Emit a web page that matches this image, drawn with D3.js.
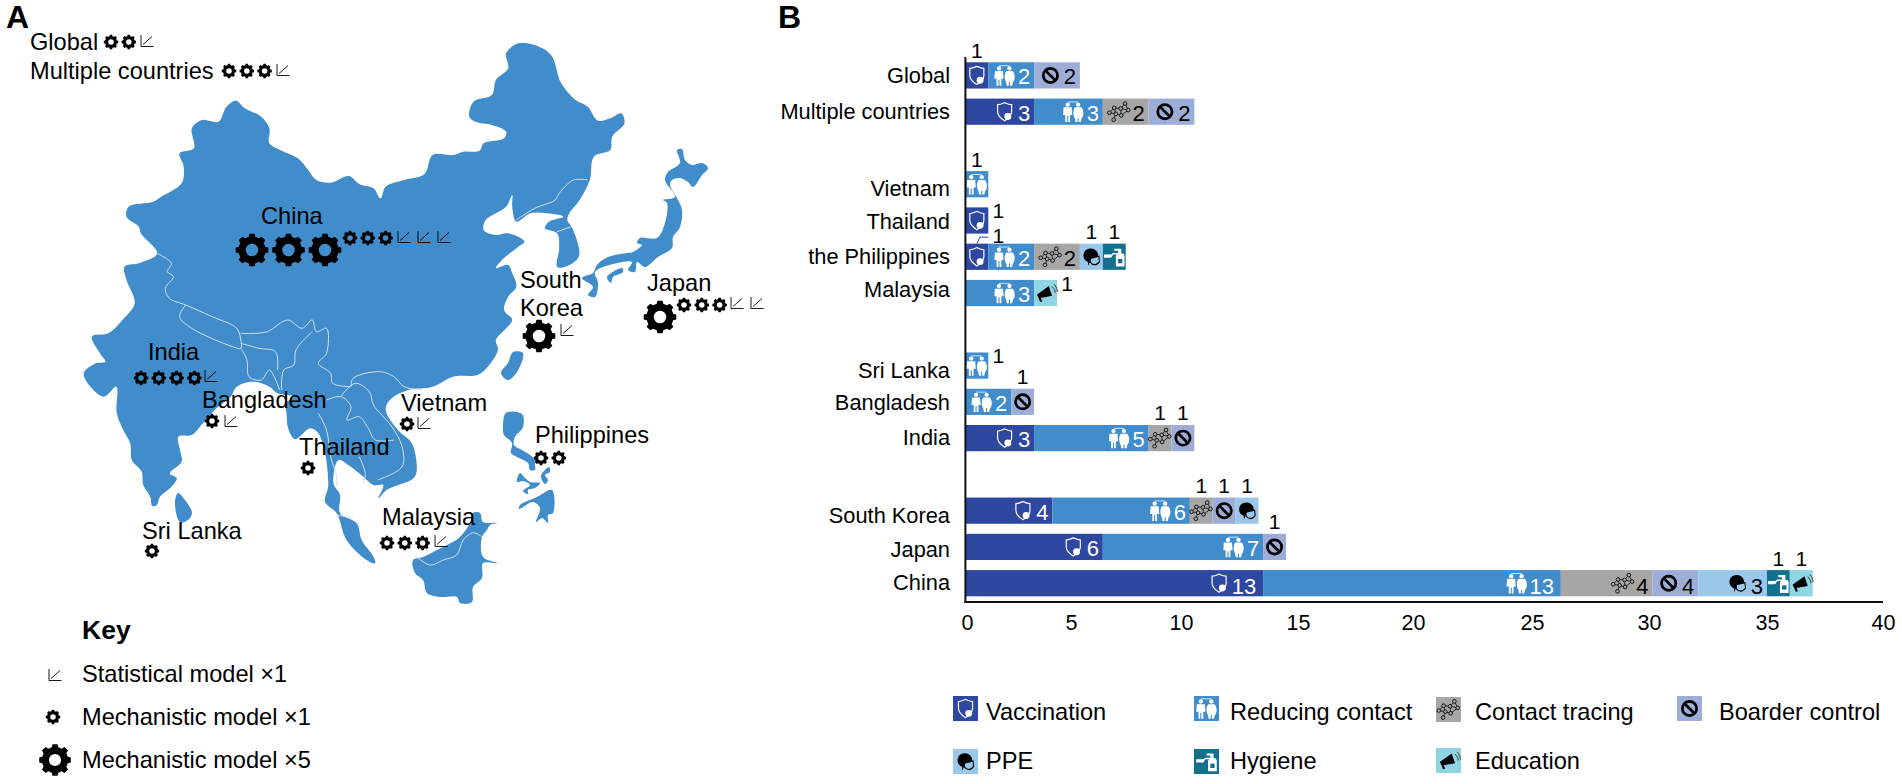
<!DOCTYPE html>
<html><head><meta charset="utf-8">
<script src="https://cdn.jsdelivr.net/npm/d3@7"></script>
<style>
html,body{margin:0;padding:0;background:#fff}
svg{display:block}
text{font-family:"Liberation Sans",Arial,sans-serif;fill:#000}
</style></head><body>
<svg id="c" width="1902" height="784" viewBox="0 0 1902 784"></svg>
<script>
// ---------- bar chart data (bar lengths as drawn in the picture) ----------
const categories = ["Global","Multiple countries","","Vietnam","Thailand","the Philippines","Malaysia"," ","Sri Lanka","Bangladesh","India","  ","South Korea","Japan","China"];
const vaccination    = [1,3,0,0,1,1,0,0,0,0,3,0,3.8,6,13];
const reducingContact= [2,3,0,1,0,2,3,0,1,2,5,0,6,7,13];
const contactTracing = [0,2,0,0,0,2,0,0,0,0,1,0,1,0,4];
const boarderControl = [2,2,0,0,0,0,0,0,0,1,1,0,1,1,2];
const ppe            = [0,0,0,0,0,1,0,0,0,0,0,0,1,0,3];
const hygiene        = [0,0,0,0,0,1,0,0,0,0,0,0,0,0,1];
const education      = [0,0,0,0,0,0,1,0,0,0,0,0,0,0,1];
const seriesNames = ["Vaccination","Reducing contact","Contact tracing","Boarder control","PPE","Hygiene","Education"];
const seriesValues = [vaccination,reducingContact,contactTracing,boarderControl,ppe,hygiene,education];
const seriesColors = ["#2e47a0","#418ccb","#a6a6a6","#9dadd8","#9ac8eb","#14708f","#8fd5e3"];
const seriesIcons = ["shield","people","network","ban","mask","bottle","horn"];
const printedLabels = {"China|Boarder control":4,"South Korea|Vaccination":4};
const xTicks = [0,5,10,15,20,25,30,35,40];
const xTickPixels = [967,1071,1181,1298,1413,1532,1649,1767,1883];
const labelNudge = {"Global":0,"Multiple countries":0,"Vietnam":4,"Thailand":1,"the Philippines":0,"Malaysia":-4,"Sri Lanka":5,"Bangladesh":1,"India":-1,"South Korea":5,"Japan":2,"China":-1};
const onesAtRight = ["Thailand|Vaccination","Malaysia|Education","Sri Lanka|Reducing contact"];
const onesWithLeader = ["the Philippines|Vaccination"];

// ---------- map data (traced outline, reference crop units) ----------
const mainlandOutline = [[578,302],[600,325],[640,350],[660,385],[660,430],[690,452],[730,475],[755,510],[775,540],[810,548],[855,528],[880,552],[915,565],[932,595],[945,560],[990,540],[1040,522],[1060,465],[1110,465],[1135,455],[1175,452],[1185,430],[1235,415],[1240,395],[1205,375],[1165,365],[1150,350],[1160,305],[1205,285],[1215,240],[1245,205],[1240,160],[1270,130],[1310,135],[1350,165],[1375,250],[1410,300],[1440,320],[1465,362],[1495,355],[1522,340],[1530,370],[1500,410],[1495,450],[1455,470],[1445,540],[1420,600],[1395,640],[1390,660],[1400,680],[1412,715],[1418,770],[1385,800],[1365,800],[1370,745],[1365,700],[1335,685],[1345,665],[1380,650],[1340,640],[1300,640],[1265,665],[1255,620],[1255,585],[1240,620],[1190,660],[1185,690],[1215,705],[1240,700],[1260,705],[1285,725],[1270,740],[1230,780],[1215,805],[1245,795],[1255,820],[1265,860],[1245,890],[1235,930],[1255,960],[1240,985],[1215,1020],[1220,1050],[1195,1100],[1170,1125],[1110,1130],[1060,1160],[1000,1170],[955,1200],[945,1230],[975,1290],[1009,1330],[1021,1410],[1013,1435],[947,1470],[927,1495],[939,1455],[915,1455],[890,1430],[853,1395],[829,1380],[817,1450],[833,1485],[833,1540],[874,1570],[886,1620],[915,1670],[919,1690],[898,1680],[849,1620],[825,1540],[796,1505],[804,1460],[800,1385],[796,1360],[780,1300],[760,1285],[723,1318],[706,1285],[702,1240],[700,1210],[720,1190],[680,1180],[660,1160],[620,1145],[580,1160],[565,1190],[530,1225],[490,1280],[470,1305],[437,1310],[441,1350],[445,1385],[416,1420],[433,1435],[420,1460],[392,1490],[384,1515],[373,1518],[368,1490],[351,1455],[347,1415],[323,1380],[319,1330],[302,1290],[286,1240],[285,1160],[255,1190],[225,1165],[205,1120],[235,1090],[258,1085],[245,1060],[225,1010],[265,1000],[300,960],[330,910],[310,840],[305,800],[340,790],[385,760],[345,700],[340,680],[310,650],[315,620],[375,605],[395,590],[445,550],[450,500],[440,460],[475,445],[470,385],[495,360],[535,365],[555,320]];
const borderLines = [
 [[385,760],[420,790],[410,815],[425,830],[405,865],[415,895],[455,915],[520,950],[580,985],[590,1020],[590,1045],[570,1040],[470,985],[440,950],[455,915]],
 [[590,1000],[625,1000],[655,995],[705,960],[740,985],[765,960],[775,995],[800,985],[800,1060],[780,1090],[810,1120],[815,1150],[860,1160]],
 [[765,995],[725,1050],[720,1095],[695,1110],[690,1170]],
 [[590,1045],[605,1080],[610,1130],[640,1140],[660,1110],[685,1170]],
 [[590,1030],[635,1045],[675,1055],[680,1110]],
 [[860,1160],[865,1135],[930,1115],[965,1130],[990,1160],[1035,1170]],
 [[835,1190],[870,1150],[905,1175],[915,1215],[960,1280],[985,1340],[985,1400],[925,1440]],
 [[800,1200],[835,1190],[860,1220],[850,1260],[880,1250],[900,1280],[920,1320],[965,1320]],
 [[780,1240],[800,1290],[810,1370],[825,1430],[825,1460]],
 [[880,1370],[895,1420],[890,1450]],
 [[1440,540],[1405,540],[1370,580],[1360,600],[1310,625],[1265,660]],
 [[1365,695],[1400,680]],
 [[825,1545],[866,1555]],
 [[1016,1665],[1053,1695],[1086,1680],[1119,1665],[1135,1620],[1160,1598],[1180,1610]]
];
// islands in page pixels
const islands = [
 [[178,493],[185,500],[192,513],[188,520],[180,522],[175,503]],
 [[513,352],[523,353],[517,372],[508,380],[501,373],[508,363]],
 [[677,150],[682,149],[685,160],[692,165],[702,163],[708,168],[702,175],[693,187],[688,182],[680,178],[672,180],[670,185],[677,198],[682,210],[680,227],[673,237],[672,248],[658,257],[645,267],[637,262],[635,272],[628,270],[632,262],[617,263],[595,272],[598,283],[595,297],[588,295],[593,287],[582,278],[593,273],[597,265],[608,257],[627,253],[633,252],[642,245],[637,243],[640,238],[657,238],[665,223],[667,203],[663,200],[675,197],[665,180],[668,172],[680,163]],
 [[607,277],[622,268],[623,272],[613,277],[611,283]],
 [[506,413],[522,414],[523,427],[515,437],[514,445],[522,450],[530,455],[537,462],[535,463],[535,470],[530,470],[528,463],[517,457],[511,453],[512,443],[504,435],[503,427]],
 [[520,473],[525,478],[530,482],[540,483],[535,488],[528,490],[528,494],[523,491],[530,485],[523,481],[517,482]],
 [[549,467],[550,472],[545,475],[548,480],[545,484],[541,476]],
 [[552,490],[553,513],[548,515],[548,523],[542,518],[536,522],[540,508],[533,502],[523,507],[519,509],[520,505],[537,497]],
 [[413,560],[423,557],[437,550],[447,545],[460,537],[470,523],[473,513],[480,513],[483,522],[497,523],[490,525],[487,530],[482,537],[483,557],[497,563],[483,563],[482,578],[473,587],[472,602],[460,603],[457,597],[440,597],[427,593],[423,580],[415,573]]
];
// model counts per place
const places = ["Global","Multiple countries","China","South Korea","Japan","India","Bangladesh","Vietnam","Thailand","Philippines","Malaysia","Sri Lanka"];
const bigGears   = [0,0,3,1,1,0,0,0,0,0,0,0];
const smallGears = [2,3,3,0,3,4,1,1,1,2,3,1];
const statModels = [1,1,3,1,2,1,1,1,0,0,1,0];
const placeLabelPos = [[30,42],[30,71],[261,216],[520,280],[647,283],[148,352],[202,400],[401,403],[299,447],[535,435],[382,517],[142,531]];
const bigGearPos = [null,null,[252,250],[539,336],[660,317],null,null,null,null,null,null,null];
const smallGearPos = [[111,42],[229,71],[350,238],null,[684,305],[141,378],[212,421],[407,424],[308,468],[541,458],[387,543],[152,551]];
const statPos = [[147,41],[283,70],[404,237],[567,330],[737,303],[211,376],[231,421],[424,423],null,null,[441,541],null];
const smallStep = 17.8, bigStep = 36.5, statStep = 20;
const keyRows = ["Statistical model ×1","Mechanistic model ×1","Mechanistic model ×5"];

// ---------- helpers ----------
const svg = d3.select("#c");
const fontMain = 23.6;
const mapX = d3.scaleLinear().domain([0,1568]).range([0,640]);
const mapY = d3.scaleLinear().domain([0,1500]).range([0,500]);
const mapLine = d3.line().x(d=>mapX(d[0])).y(d=>mapY(d[1]));
const pxArea = d3.line().curve(d3.curveCatmullRomClosed.alpha(.5));
const mapFill = "#418ccb";

function gearPath(r){
  const n=8,p=d3.path(),ro=r,ri=r*.82,h=r*.38;
  const step=2*Math.PI/n;
  for(let i=0;i<n;i++){
    const a=i*step-Math.PI/2;
    const pts=[[ri,a-step*.5],[ri,a-step*.32],[ro,a-step*.2],[ro,a+step*.2],[ri,a+step*.32]];
    pts.forEach(([q,t],j)=>{const x=q*Math.cos(t),y=q*Math.sin(t);(i===0&&j===0)?p.moveTo(x,y):p.lineTo(x,y);});
  }
  p.closePath();
  p.moveTo(h,0);p.arc(0,0,h,0,2*Math.PI);p.closePath();
  return p.toString();
}
function gear(g,x,y,r){g.append("path").attr("transform",`translate(${x},${y})`).attr("d",gearPath(r)).attr("fill","#000").attr("fill-rule","evenodd");}
function statIcon(g,x,y){
  const t=g.append("g").attr("transform",`translate(${x},${y})`).attr("fill","none").attr("stroke","#000").attr("stroke-width",.9);
  t.append("path").attr("d","M-6,-6V5.5H6.5");
  t.append("path").attr("d","M-4,3.5L5,-4.5");
}
const icons = {
  shield(g){
    g.append("path").attr("d","M-6.5,-6.5C-3.5,-6.5 -2,-7.5 0,-8.5C2,-7.5 3.5,-6.5 6.5,-6.5L6.5,0C6.5,4 3,6.5 0,8.5C-3,6.5 -6.5,4 -6.5,0Z").attr("fill","none").attr("stroke","#fff").attr("stroke-width",1.1);
    g.append("circle").attr("cx",3).attr("cy",4.5).attr("r",3.2).attr("fill","#fff");
  },
  people(g){
    g.append("circle").attr("cx",-5.2).attr("cy",-6.5).attr("r",2).attr("fill","#fff");
    g.append("circle").attr("cx",4.5).attr("cy",-6.5).attr("r",2).attr("fill","#fff");
    g.append("path").attr("d","M-9,-4H-1.5L-1,3H-3V9.5H-4.7V4H-5.7V9.5H-7.4V3H-9.5Z").attr("fill","#fff");
    g.append("path").attr("d","M1.5,-4H7.5C10,-1 10,4 7.5,6.5L7,9.5H5V6H4V9.5H2L1.5,6.5C-.5,3 -.5,-1 1.5,-4Z").attr("fill","#fff");
    g.append("path").attr("d","M-5,-9H4.5").attr("stroke","#fff").attr("stroke-width",.7).attr("fill","none");
  },
  network(g){
    const pts=[[-9,1],[-4.5,-3.5],[1.5,-3],[5.5,-7.5],[8.5,-1.5],[-5,7.5],[2,3.5],[-3,2]];
    const links=[[0,1],[1,2],[2,3],[3,4],[2,4],[1,7],[7,6],[6,2],[7,5],[6,4],[0,7]];
    g.selectAll("line.a").data(links).enter().append("line").attr("x1",d=>pts[d[0]][0]).attr("y1",d=>pts[d[0]][1]).attr("x2",d=>pts[d[1]][0]).attr("y2",d=>pts[d[1]][1]).attr("stroke","#000").attr("stroke-width",.7);
    g.selectAll("circle.a").data(pts).enter().append("circle").attr("cx",d=>d[0]).attr("cy",d=>d[1]).attr("r",1.7).attr("fill","#a6a6a6").attr("stroke","#000").attr("stroke-width",.8);
  },
  ban(g){
    g.append("circle").attr("r",6.6).attr("fill","none").attr("stroke","#000").attr("stroke-width",2.5);
    g.append("line").attr("x1",-4.7).attr("y1",-4.7).attr("x2",4.7).attr("y2",4.7).attr("stroke","#000").attr("stroke-width",2.5);
  },
  mask(g,bg){
    g.append("path").attr("d","M-3,8.5L-3,5C-8,3 -8,-2 -6.5,-4.5C-3.5,-9 4,-8.5 6,-3L6.5,1L0,2Z").attr("fill","#000");
    g.append("path").attr("d","M-1,1.5L7,-0.5L7.5,4.5C5,8.5 1,8 -1,5Z").attr("fill",bg).attr("stroke","#000").attr("stroke-width",1);
  },
  bottle(g,bg){
    g.append("path").attr("d","M-9.5,-2H-3L-1,-3.5H3.5V-5.5H0V-7.5H6.5V-3H8.5L9.5,-1V9H1.5V-1L2.5,-2H-1L-3,1H-9.5Z").attr("fill","#fff");
    g.append("rect").attr("x",3.5).attr("y",2).attr("width",4).attr("height",4).attr("fill",bg);
  },
  horn(g){
    g.append("path").attr("d","M-8,1.5L3,-6.5L6,2.5L-4.5,4.5L-3,7.5L-5,8L-6.5,4.5Z").attr("fill","#000");
    g.append("path").attr("d","M6,-6C8,-4 9,-2 9,0M8,-8C10,-6 11,-3 11,-1").attr("fill","none").attr("stroke","#333").attr("stroke-width",.9);
  }
};
function drawIcon(parent,name,x,y,bg){const g=parent.append("g").attr("transform",`translate(${x},${y}) scale(1.08)`);icons[name](g,bg);}

// ---------- panel letters ----------
svg.append("text").attr("x",6).attr("y",28).attr("font-size",32).attr("font-weight","bold").text("A");
svg.append("text").attr("x",778).attr("y",28).attr("font-size",32).attr("font-weight","bold").text("B");

// ---------- map ----------
const map = svg.append("g");
map.append("path").attr("d",mapLine.curve(d3.curveCatmullRomClosed.alpha(.5))(mainlandOutline)).attr("fill",mapFill);
map.selectAll("path.island").data(islands).enter().append("path").attr("class","island").attr("d",d=>pxArea(d)).attr("fill",mapFill);
const borderGen = d3.line().x(d=>mapX(d[0])).y(d=>mapY(d[1])).curve(d3.curveCatmullRom.alpha(.5));
map.selectAll("path.border").data(borderLines).enter().append("path").attr("class","border").attr("d",d=>borderGen(d)).attr("fill","none").attr("stroke","#cfe2f3").attr("stroke-width",1);

const marks = svg.append("g");
places.forEach((p,i)=>{
  const [lx,ly]=placeLabelPos[i];
  if(p==="South Korea"){
    marks.append("text").attr("x",lx).attr("y",ly).attr("dy",".35em").attr("font-size",fontMain).text("South");
    marks.append("text").attr("x",lx).attr("y",ly+28).attr("dy",".35em").attr("font-size",fontMain).text("Korea");
  } else {
    marks.append("text").attr("x",lx).attr("y",ly).attr("dy",".35em").attr("font-size",fontMain).text(p);
  }
  d3.range(bigGears[i]).forEach(k=>gear(marks,bigGearPos[i][0]+k*bigStep,bigGearPos[i][1],16.5));
  d3.range(smallGears[i]).forEach(k=>gear(marks,smallGearPos[i][0]+k*smallStep,smallGearPos[i][1],7.3));
  d3.range(statModels[i]).forEach(k=>statIcon(marks,statPos[i][0]+k*statStep,statPos[i][1]));
});

// ---------- key ----------
const key = svg.append("g");
key.append("text").attr("x",82).attr("y",630).attr("dy",".35em").attr("font-size",26.5).attr("font-weight","bold").text("Key");
[674,717,760].forEach((y,i)=>key.append("text").attr("x",82).attr("y",y).attr("dy",".35em").attr("font-size",fontMain).text(keyRows[i]));
statIcon(key,55,675); gear(key,53,717,7.3); gear(key,55,760,16);

// ---------- bars ----------
const x = d3.scaleLinear().domain([0,40]).range([965.4,1881.4]);
const y = d3.scaleBand().domain(categories).range([62.3,596.3]).paddingInner(.277).paddingOuter(0);
const xAxisScale = d3.scaleLinear().domain(xTicks).range(xTickPixels);
const rows = categories.map((c,i)=>{const o={category:c};seriesNames.forEach((s,k)=>o[s]=seriesValues[k][i]);return o;});
const stacked = d3.stack().keys(seriesNames)(rows);
const plot = svg.append("g");
stacked.forEach((layer,k)=>{
  plot.selectAll(null).data(layer.filter(d=>d[1]>d[0])).enter().append("rect")
    .attr("x",d=>x(d[0])).attr("y",d=>y(d.data.category)).attr("width",d=>x(d[1])-x(d[0])).attr("height",y.bandwidth())
    .attr("fill",seriesColors[k]);
});
stacked.forEach((layer,k)=>{
  const name=seriesNames[k], dark=k<2||k===5, col=dark?"#fff":"#000";
  layer.filter(d=>d[1]>d[0]).forEach(d=>{
    const id=d.data.category+"|"+name;
    const v=printedLabels[id]||Math.round(d[1]-d[0]), cy=y(d.data.category)+y.bandwidth()/2, end=x(d[1]), mid=(x(d[0])+x(d[1]))/2, top=y(d.data.category);
    if(v===1){
      drawIcon(plot,seriesIcons[k],mid,cy,seriesColors[k]);
      if(onesAtRight.includes(id)){
        plot.append("text").attr("x",end+10).attr("y",top+11).attr("text-anchor","middle").attr("font-size",21).text("1");
      } else if(onesWithLeader.includes(id)){
        plot.append("text").attr("x",end+10).attr("y",top-0.5).attr("text-anchor","middle").attr("font-size",21).text("1");
        plot.append("path").attr("d",`M${mid},${top}L${mid+3},${top-6.5}H${end}`).attr("fill","none").attr("stroke",seriesColors[0]).attr("stroke-width",1);
      } else {
        plot.append("text").attr("x",mid).attr("y",top-4.5).attr("text-anchor","middle").attr("font-size",21).text("1");
      }
    } else {
      const wide=v>=10, tx=wide?end-19:end-10, ix=wide?tx-25:tx-19.5;
      const dyText=d.data.category==="China"?3:1;
      drawIcon(plot,seriesIcons[k],ix,cy,seriesColors[k]);
      plot.append("text").attr("x",tx).attr("y",cy+dyText).attr("dy",".36em").attr("text-anchor","middle").attr("font-size",22).style("fill",col).text(v);
    }
  });
});

// ---------- axes ----------
const xAxis = svg.append("g").attr("transform","translate(0,602)")
  .call(d3.axisBottom(xAxisScale).tickValues(xTicks).tickSize(0).tickPadding(13).tickFormat(d3.format("d")));
xAxis.select(".domain").remove();
xAxis.selectAll("text").attr("font-size",21.5).style("font-family",'"Liberation Sans",Arial,sans-serif').style("fill","#000");
const yAxis = svg.append("g").attr("transform","translate(950,0)")
  .call(d3.axisLeft(y).tickSize(0).tickPadding(0));
yAxis.select(".domain").remove();
yAxis.selectAll(".tick").filter(d=>!d.trim()).remove();
yAxis.selectAll("text").attr("font-size",21.8).attr("dy",".35em").style("font-family",'"Liberation Sans",Arial,sans-serif').style("fill","#000")
  .attr("y",d=>labelNudge[d]||0);
svg.append("line").attr("x1",x(0)).attr("x2",x(0)).attr("y1",57).attr("y2",603).attr("stroke","#111").attr("stroke-width",2);
svg.append("line").attr("x1",x(0)-1).attr("x2",1883).attr("y1",602).attr("y2",602).attr("stroke","#111").attr("stroke-width",2);

// ---------- legend ----------
const legendPos = [[953,696,986,712],[1194,696,1230,712],[1436,697,1475,712],[1677,696,1719,712],[953,749,986,761],[1194,749,1230,761],[1436,748,1475,761]];
const legend = svg.append("g");
seriesNames.forEach((s,k)=>{
  const [sx,sy,tx,ty]=legendPos[k];
  legend.append("rect").attr("x",sx).attr("y",sy).attr("width",25).attr("height",25).attr("fill",seriesColors[k]);
  drawIcon(legend,seriesIcons[k],sx+12.5,sy+12.5,seriesColors[k]);
  legend.append("text").attr("x",tx).attr("y",ty).attr("dy",".35em").attr("font-size",fontMain).text(s);
});
</script>
</body></html>
